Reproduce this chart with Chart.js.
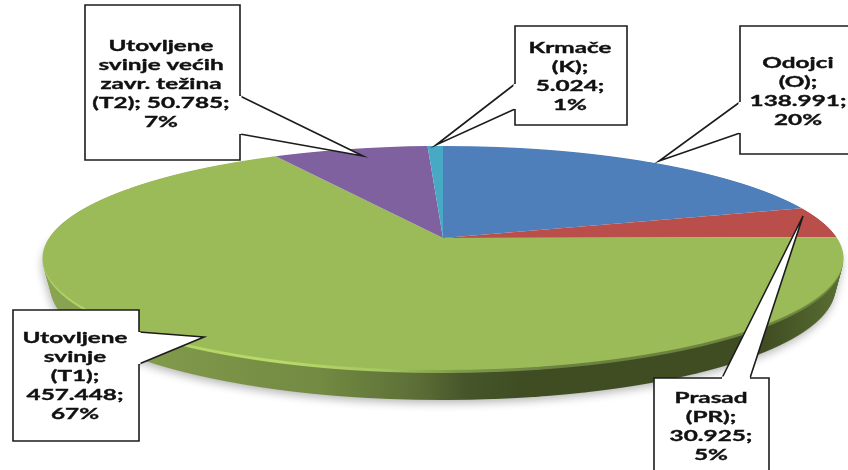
<!DOCTYPE html>
<html lang="hr">
<head>
    <meta charset="UTF-8">
    <title>Struktura svinja</title>
    <script src="https://cdn.jsdelivr.net/npm/chart.js@4/dist/chart.umd.min.js"></script>
    <style>
        html, body { margin: 0; background: #fff; overflow: hidden; }
        canvas { display: block; filter: blur(.4px); }
    </style>
</head>
<body>
    <canvas id="pieChart" width="848" height="470"></canvas>

    <script>
        // data
        var categories = ['Odojci (O)', 'Prasad (PR)', 'Utovljene svinje (T1)', 'Utovljene svinje većih zavr. težina (T2)', 'Krmače (K)'];
        var values = [138991, 30925, 457448, 50785, 5024];
        var sliceColors = ['#4f7fba', '#ba4e4a', '#9bbb59', '#7f619f', '#47a9c3'];
        var labelLines = [
            ['Odojci', '(O);', '138.991;', '20%'],
            ['Prasad', '(PR);', '30.925;', '5%'],
            ['Utovljene', 'svinje', '(T1);', '457.448;', '67%'],
            ['Utovljene', 'svinje većih', 'zavr. težina', '(T2); 50.785;', '7%'],
            ['Krmače', '(K);', '5.024;', '1%']
        ];

        // callout boxes, same order as the categories
        var callouts = [
            {box: [740, 26, 112, 128], cx: 798, y: 68, ptr: [[740, 102], [659, 161], [740, 133]]},
            {box: [654, 378, 115, 96], cx: 711, y: 403, ptr: [[722, 378], [803, 216], [750, 378]]},
            {box: [13, 310, 126, 131], cx: 75, y: 343, ptr: [[139, 332], [204, 337], [139, 364]]},
            {box: [85, 5, 155, 155], cx: 161, y: 51, ptr: [[240, 96], [363, 156], [240, 134]]},
            {box: [515, 26, 112, 99], cx: 570, y: 53, ptr: [[515, 84], [436, 145], [515, 109]]}
        ];

        // perspective of the pie: centre, radius and the three y positions top / apex / front
        var apexX = 443, apexY = 238, pieR = 394;
        var topY = 146, frontY = 370, sideDepth = 30;
        var sideTaper = .27;
        var sideStops = [[0, '#8aa552'], [.2, '#7c9548'], [.35, '#728a42'], [.47, '#5c6e36'], [.53, '#46552a'], [.6, '#404d22'], [.9, '#404d22'], [1, '#5a7033']];
        var rimStops = [[0, '#b0d264'], [.3, '#b8da6a'], [.42, '#a8c860'], [.52, '#7f9a4a'], [.65, '#6a8040'], [1, '#70873f']];

        // solve Y = (a*v + b) / (1 + c*v) for v = -1, 0, 1
        var persB = apexY;
        var persC = (2 * apexY - topY - frontY) / (frontY - topY);
        var persA = apexY - topY + topY * persC;

        // the library's arcs are drawn one pixel row at a time, each row with its own transform
        function paintRows(ctx, arcs, shift, firstY, stops) {
            var bottom = frontY + shift + 2;
            var radius = pieR - shift * sideTaper;
            for (var Y = Math.max(firstY, topY - 2 + shift); Y < bottom; Y++) {
                var yt = Y + .5 - shift;
                var v = (yt - persB) / (persA - persC * yt);
                var w = 1 + persC * v;
                arcs.forEach(function(arc) {
                    var r = arc.outerRadius;
                    var sx = radius / (w * r);
                    var sy = (persA - persB * persC) / (w * w * r);
                    var tx = apexX - sx * arc.x;
                    ctx.save();
                    ctx.beginPath();
                    ctx.rect(0, Y, 848, 1);
                    ctx.clip();
                    ctx.setTransform(sx, 0, 0, sy, tx, Y + .5 - sy * (arc.y + v * r));
                    var saved = arc.options;
                    if (stops) {
                        var g = ctx.createLinearGradient((40 - tx) / sx, 0, (845 - tx) / sx, 0);
                        stops.forEach(function(s) { g.addColorStop(s[0], s[1]); });
                        arc.options = Object.assign({}, saved, {backgroundColor: g});
                    }
                    arc.draw(ctx);
                    arc.options = saved;
                    ctx.restore();
                });
            }
        }

        var pie3d = {
            id: 'pie3d',
            beforeDatasetsDraw: function(chart) {
                var ctx = chart.ctx;
                var arcs = chart.getDatasetMeta(0).data;
                var biggest = [arcs[values.indexOf(Math.max.apply(null, values))]];

                for (var d = sideDepth; d > 3; d--) {
                    paintRows(ctx, biggest, d, apexY, sideStops);
                }
                var side = document.createElement('canvas');
                side.width = 848;
                side.height = 470;
                side.getContext('2d').drawImage(chart.canvas, 0, 0);

                paintRows(ctx, biggest, 3, apexY, rimStops);
                paintRows(ctx, biggest, 2, apexY, rimStops);
                paintRows(ctx, biggest, 1, apexY, rimStops);
                paintRows(ctx, arcs, 0, 0, null);

                // soft shadow under the pie
                ctx.save();
                ctx.globalCompositeOperation = 'destination-over';
                ctx.filter = 'blur(5px) brightness(0) opacity(.3)';
                ctx.drawImage(side, -1, 3);
                ctx.restore();
                return false;
            },
            afterDraw: function(chart) {
                var ctx = chart.ctx;
                callouts.forEach(function(c, i) {
                    var b = c.box;
                    ctx.fillStyle = '#fff';
                    ctx.strokeStyle = '#1c1c1c';
                    ctx.lineWidth = 1.6;
                    ctx.beginPath();
                    ctx.rect(b[0], b[1], b[2], b[3]);
                    ctx.fill();
                    ctx.stroke();

                    ctx.beginPath();
                    ctx.moveTo(c.ptr[0][0], c.ptr[0][1]);
                    ctx.lineTo(c.ptr[1][0], c.ptr[1][1]);
                    ctx.lineTo(c.ptr[2][0], c.ptr[2][1]);
                    ctx.fill();
                    ctx.stroke();

                    // cover the box edge under the pointer
                    ctx.beginPath();
                    ctx.moveTo(c.ptr[0][0], c.ptr[0][1]);
                    ctx.lineTo(c.ptr[2][0], c.ptr[2][1]);
                    ctx.strokeStyle = '#fff';
                    ctx.lineWidth = 3;
                    ctx.stroke();

                    ctx.fillStyle = '#111';
                    ctx.strokeStyle = '#111';
                    ctx.lineWidth = .35;
                    ctx.font = 'bold 15px Lato';
                    ctx.textAlign = 'center';
                    labelLines[i].forEach(function(line, n) {
                        ctx.save();
                        ctx.translate(c.cx, c.y + n * 19);
                        ctx.scale(1.62, 1);
                        ctx.fillText(line, 0, 0);
                        ctx.strokeText(line, 0, 0);
                        ctx.restore();
                    });
                });
            }
        };

        new Chart(document.getElementById('pieChart'), {
            type: 'pie',
            data: {
                labels: categories,
                datasets: [{data: values, backgroundColor: sliceColors, borderWidth: 0, clip: false}]
            },
            options: {
                responsive: false,
                animation: false,
                plugins: {legend: {display: false}, tooltip: {enabled: false}}
            },
            plugins: [pie3d]
        });
    </script>
</body>
</html>
